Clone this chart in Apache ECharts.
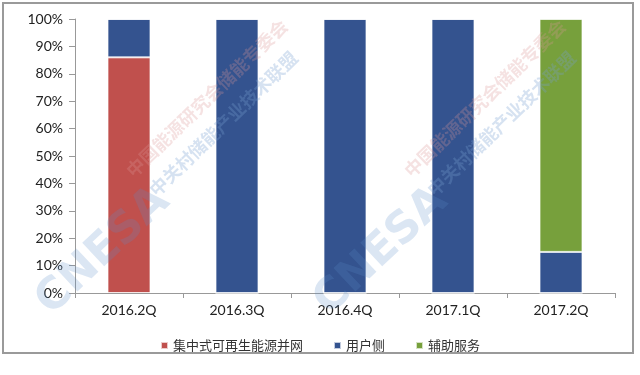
<!DOCTYPE html>
<html><head><meta charset="utf-8">
<script src="https://cdn.jsdelivr.net/npm/echarts@6/dist/echarts.min.js"></script>
<style>html,body{margin:0;padding:0;background:#fff}#c{width:640px;height:375px}</style>
</head><body><div id="c"></div>
<script>
const categories = ['2016.2Q','2016.3Q','2016.4Q','2017.1Q','2017.2Q'];
const seriesNames = ['集中式可再生能源并网','用户侧','辅助服务'];
const centralized = [86, 0, 0, 0, 0];
const userSide = [14, 100, 100, 100, 15];
const ancillary = [0, 0, 0, 0, 85];
const colors = ['#C0504D','#34538F','#77A03C'];

const chart = echarts.init(document.getElementById('c'));
const mk = (name, data, color) => ({
  name, type:'bar', stack:'s', data, barWidth:43,
  itemStyle:{color, borderColor:'rgba(255,255,255,0.7)', borderWidth:1}
});
const wm = (x,y) => ([
  {type:'text', x:x, y:y, rotation:Math.PI*0.24, z:100,
   style:{text:'CNESA', fill:'rgba(90,140,200,0.22)', font:'bold 44px "DejaVu Sans"'}},
  {type:'text', x:x+95, y:y-125, rotation:Math.PI*0.245, z:100,
   style:{text:'中国能源研究会储能专委会', fill:'rgba(220,150,150,0.28)', font:'bold 18px "Noto Sans CJK SC"'}},
  {type:'text', x:x+118, y:y-106, rotation:Math.PI*0.245, z:100,
   style:{text:'中关村储能产业技术联盟', fill:'rgba(120,160,210,0.3)', font:'bold 18px "Noto Sans CJK SC"'}}
]);
chart.setOption({
  animation:false,
  color:colors,
  graphic:[
    {type:'rect', shape:{x:3,y:3,width:630,height:350}, style:{fill:'none', stroke:'#9a9a9a', lineWidth:2}, z:-1},
    ...wm(28,292), ...wm(306,292)
  ],
  grid:{left:75, right:25, top:19, bottom:82},
  legend:{bottom:18, left:'center', itemWidth:7, itemHeight:7, itemGap:30, icon:'rect',
    textStyle:{fontSize:13, color:'#333', fontFamily:'"Noto Sans CJK SC"'}},
  xAxis:{type:'category', data:categories,
    axisLine:{lineStyle:{color:'#999'}},
    axisTick:{show:true, length:5, lineStyle:{color:'#999'}},
    axisLabel:{fontSize:14, color:'#222', margin:10, fontFamily:'Lato'}},
  yAxis:{type:'value', min:0, max:100, interval:10,
    axisLine:{show:true, lineStyle:{color:'#999'}},
    axisTick:{show:true, length:6, lineStyle:{color:'#999'}},
    splitLine:{show:false},
    axisLabel:{formatter:'{value}%', fontSize:14, color:'#222', margin:12, fontFamily:'Lato'}},
  series:[mk(seriesNames[0], centralized, colors[0]), mk(seriesNames[1], userSide, colors[1]), mk(seriesNames[2], ancillary, colors[2])]
});
</script></body></html>
